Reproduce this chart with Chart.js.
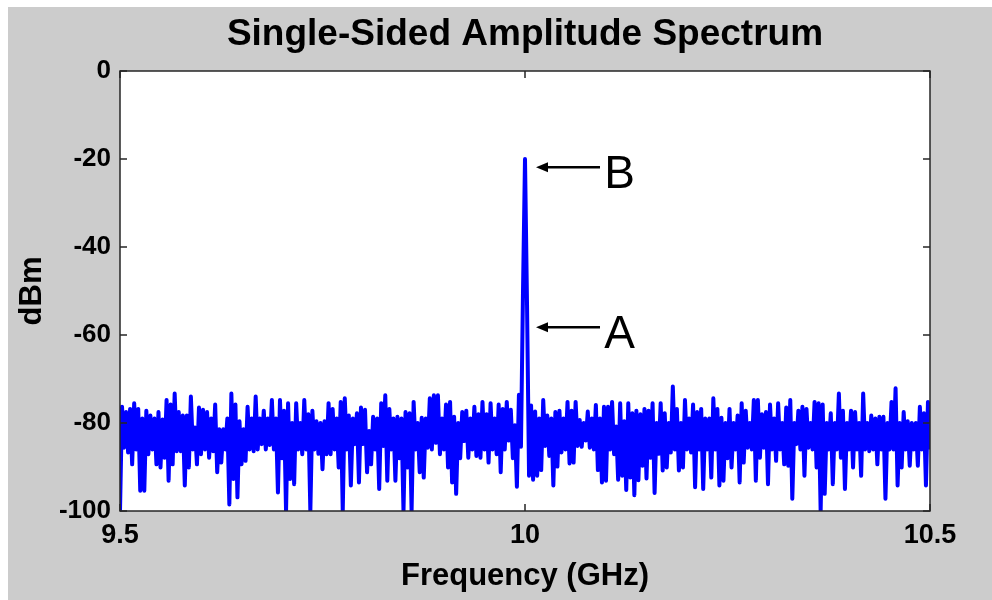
<!DOCTYPE html>
<html>
<head>
<meta charset="utf-8">
<title>Single-Sided Amplitude Spectrum</title>
<script src="https://cdn.jsdelivr.net/npm/chart.js@4.4.1/dist/chart.umd.min.js"></script>
<style>
  html, body { margin: 0; padding: 0; background: #ffffff; }
  #frame { position: absolute; left: 8px; top: 7px; width: 984px; height: 593px; background: #cccccc; }
  canvas { display: block; }
</style>
</head>
<body>
<div id="frame"><canvas id="chartCanvas" width="984" height="593"></canvas></div>
<script>
// FFT bin grid, GHz
const fStart = 9.5;
const fStep = 0.0025;

// measured level per bin, dBm
const levels = [
  -100, -76.3, -85.6, -77.5, -86.7, -76.8, -89.4, -75.5, -86, -76.8,
  -95.4, -79, -95.4, -77.2, -87.1, -78.3, -86, -79, -89.4, -77.5,
  -90.1, -79.2, -87.9, -74.8, -93.1, -75.8, -89.4, -73.3, -86.4, -77.5,
  -86.4, -78.3, -94.2, -78.3, -90.1, -74.0, -86, -81, -89.4, -76.5,
  -87.1, -77, -86, -77.5, -87.9, -79, -86.4, -75.8, -91.2, -81.4,
  -89, -81.4, -86, -79, -98.5, -73.3, -92.7, -75.8, -96.9, -79.6,
  -89.4, -81.4, -88.6, -76.3, -86, -79, -86.4, -74.0, -86, -79,
  -84.8, -77.2, -86, -79, -85, -74.8, -86, -79, -95.8, -74.8,
  -88, -77.2, -100, -75.5, -92.7, -80, -93.9, -75.5, -86, -80,
  -87.1, -74.8, -86, -78, -100, -77.2, -86, -79.6, -87, -80,
  -90.5, -79.6, -87.1, -75.5, -87.1, -76.8, -86, -79, -90.1, -75.2,
  -100, -74.4, -86, -78.3, -94.2, -79, -84.8, -77.8, -93.5, -76.5,
  -84.8, -77, -91.2, -81.8, -89.4, -78.6, -86, -79, -95.0, -75.5,
  -85.2, -73.7, -93.1, -76.8, -86, -79, -93.1, -78.6, -88, -79,
  -100, -77.5, -90.1, -77.8, -100, -75.2, -86, -80, -91.2, -78.8,
  -92.4, -79, -85.6, -74.4, -86, -73.7, -84.5, -73.7, -87.1, -79,
  -86, -75.8, -90.1, -75.2, -93.5, -78.6, -96.1, -80, -88, -77.5,
  -84.1, -77.2, -87.9, -79, -86, -76.3, -87.5, -78, -87.9, -75.2,
  -86, -78, -89.0, -75.5, -86, -79, -87.1, -75.8, -91.2, -76.8,
  -86, -75.2, -84, -77, -88, -80.5, -94.5, -73.6, -85.4, -50.5,
  -20, -53, -92, -76, -92.9, -77.4, -92, -79, -90.7, -74.8,
  -85.2, -78.3, -87.5, -79, -94.2, -77.5, -89.9, -77.2, -86.7, -79,
  -86, -75.2, -89.2, -77.2, -89.0, -75.2, -85.2, -79.3, -85.4, -80,
  -84, -77.4, -85.6, -79, -86, -75.9, -90.7, -79, -93.5, -76.3,
  -93.1, -76.3, -86, -75.2, -87.1, -80.8, -92.9, -75.5, -92, -79.6,
  -95.2, -75.5, -92.4, -77.8, -96.4, -77.2, -93, -78, -89.7, -76.8,
  -92.6, -77.2, -87.9, -75.5, -95.9, -80, -87, -75.5, -90.8, -77.8,
  -90.1, -80, -86.7, -71.7, -86, -76.8, -90.8, -80, -90.1, -74.8,
  -86, -79, -86.7, -75.8, -94.6, -77.5, -86, -76.8, -95.0, -79,
  -86, -79, -92.4, -74.4, -86, -76.8, -94.2, -78.8, -93.1, -80,
  -88, -76.8, -90.1, -80, -86, -78.3, -93.5, -75.5, -89.0, -77.2,
  -85.6, -80, -86, -74.8, -93.1, -74.8, -87.9, -78, -85.6, -77.5,
  -93.9, -75.8, -86, -79, -88.6, -75.5, -86, -80, -89.4, -76.5,
  -89.7, -74.8, -97.2, -80, -84.8, -77.2, -86, -76.3, -92.0, -76.8,
  -85.6, -80, -86, -75.2, -90.1, -75.5, -100, -75.8, -96.1, -80,
  -86, -77.8, -93.9, -80, -86, -73.3, -87.9, -77.2, -95.0, -80,
  -86, -77.2, -90.1, -77.5, -86, -80, -92.0, -73.3, -86, -80,
  -86.4, -78.3, -86, -79, -89.4, -78.6, -86, -78.6, -97.2, -80,
  -86, -75.2, -86, -72.1, -94.2, -80, -90.1, -77.5, -86, -79.6,
  -89.7, -80, -86, -80, -89.7, -76.3, -86, -77.8, -94.2, -75.2,
  -86
];

const xTicks = [9.5, 10, 10.5];
const yTicks = [0, -20, -40, -60, -80, -100];

// labelled arrows pointing at the carrier and the sideband
const markerNames = ['B', 'A'];
const markerLevels = [-21.9, -58.25];

const points = levels.map((v, i) => ({ x: fStart + i * fStep, y: v }));

const FONT = '"Liberation Sans", Arial, Helvetica, sans-serif';

const axesBox = {
  id: 'axesBox',
  beforeDraw(chart) {
    const { ctx, chartArea: a } = chart;
    ctx.save();
    ctx.fillStyle = '#ffffff';
    ctx.fillRect(a.left, a.top, a.width, a.height);
    // title centred over the axes
    ctx.fillStyle = '#000000';
    ctx.font = 'bold 37px ' + FONT;
    ctx.textAlign = 'center';
    ctx.textBaseline = 'middle';
    ctx.fillText('Single-Sided Amplitude Spectrum', (a.left + a.right) / 2, 28);
    ctx.restore();
  },
  afterDatasetsDraw(chart) {
    const { ctx, chartArea: a, scales: { x, y } } = chart;
    const len = 7;
    ctx.save();
    ctx.strokeStyle = '#262626';
    ctx.lineWidth = 1.5;
    ctx.strokeRect(a.left, a.top, a.width, a.height);
    ctx.beginPath();
    xTicks.forEach(v => {
      const px = Math.round(x.getPixelForValue(v));
      ctx.moveTo(px, a.bottom); ctx.lineTo(px, a.bottom - len);
      ctx.moveTo(px, a.top); ctx.lineTo(px, a.top + len);
    });
    yTicks.forEach(v => {
      const py = Math.round(y.getPixelForValue(v));
      ctx.moveTo(a.left, py); ctx.lineTo(a.left + len, py);
      ctx.moveTo(a.right, py); ctx.lineTo(a.right - len, py);
    });
    ctx.stroke();

    // arrows and their letters
    const tip = x.getPixelForValue(10.0136);
    const tail = x.getPixelForValue(10.0926);
    const textX = x.getPixelForValue(10.1167);
    ctx.strokeStyle = '#000000';
    ctx.fillStyle = '#000000';
    ctx.lineWidth = 2.5;
    ctx.font = '46px ' + FONT;
    ctx.textAlign = 'center';
    ctx.textBaseline = 'middle';
    markerNames.forEach((name, i) => {
      const py = y.getPixelForValue(markerLevels[i]);
      ctx.beginPath();
      ctx.moveTo(tail, py);
      ctx.lineTo(tip + 8, py);
      ctx.stroke();
      ctx.beginPath();
      ctx.moveTo(tip, py);
      ctx.lineTo(tip + 12, py - 5);
      ctx.lineTo(tip + 12, py + 5);
      ctx.closePath();
      ctx.fill();
      ctx.fillText(name, textX, py + 8);
    });
    ctx.restore();
  }
};

const ctx = document.getElementById('chartCanvas').getContext('2d');
const chart = new Chart(ctx, {
  type: 'line',
  data: {
    datasets: [{
      data: points,
      borderColor: '#0000ff',
      borderWidth: 4,
      borderJoinStyle: 'round',
      tension: 0,
      pointRadius: 0,
      fill: false
    }]
  },
  options: {
    responsive: false,
    animation: false,
    events: [],
    layout: { padding: { top: 64, right: 62, bottom: 0, left: 0 } },
    plugins: {
      legend: { display: false },
      tooltip: { enabled: false },
      title: { display: false }
    },
    scales: {
      x: {
        type: 'linear',
        min: 9.5,
        max: 10.5,
        afterBuildTicks: s => { s.ticks = xTicks.map(v => ({ value: v })); },
        afterFit: s => { s.height = 89; },
        grid: { display: false, drawTicks: false },
        border: { display: false },
        ticks: {
          color: '#000000',
          padding: 8,
          maxRotation: 0,
          font: { family: FONT, size: 27, weight: 'bold' },
          callback: v => String(Math.round(v * 10) / 10)
        },
        title: {
          display: true,
          text: 'Frequency (GHz)',
          color: '#000000',
          font: { family: FONT, size: 31, weight: 'bold', lineHeight: 1.2 },
          padding: { top: 0, bottom: 5 }
        }
      },
      y: {
        min: -100,
        max: 0,
        afterBuildTicks: s => { s.ticks = yTicks.map(v => ({ value: v })); },
        afterFit: s => { s.width = 112; },
        grid: { display: false, drawTicks: false },
        border: { display: false },
        ticks: {
          color: '#000000',
          padding: 9,
          font: { family: FONT, size: 26, weight: 'bold' },
          callback: v => String(v)
        },
        title: {
          display: true,
          text: 'dBm',
          color: '#000000',
          font: { family: FONT, size: 31, weight: 'bold', lineHeight: 1.2 },
          padding: { top: 6, bottom: 0 }
        }
      }
    }
  },
  plugins: [axesBox]
});
</script>
</body>
</html>
